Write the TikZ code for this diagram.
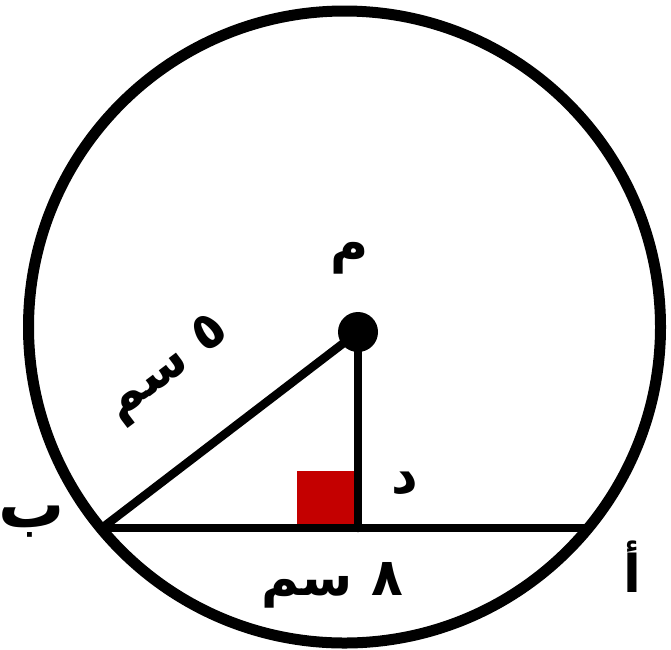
\documentclass[tikz,border=0pt]{standalone}
\usepackage{fontspec}
\TeXXeTstate=1
\newfontfamily\arabicfont[Script=Arabic]{DejaVu Sans}
\begin{document}
\begin{tikzpicture}[x=1pt,y=-1pt,
  geo/.style={line width=8.5pt, line cap=round, black},
  lbl/.style={inner sep=0pt, font=\arabicfont\bfseries\fontsize{52}{54}\selectfont}]
\useasboundingbox (0,0) rectangle (671,649);
\definecolor{rightred}{RGB}{196,0,0}
% points
\coordinate (O) at (344.5,327);
\coordinate (B) at (102,528);
\coordinate (A) at (586,528);
\coordinate (D) at (358,528);
\coordinate (Q) at (297,471);
% right-angle marker
\fill[rightred] (Q) rectangle (D);
% circle
\draw[line width=11pt] (O) circle (316);
% segments
\node[circle, fill=black, inner sep=0pt, minimum size=40pt] (M) at (358,332) {};
\draw[geo] (B) -- (A);
\draw[geo] (M.center) -- (D);
\draw[geo] (B) -- (M.center);
% labels
\node[lbl] (lM) at (350,258) {\beginR م\endR};
\node[lbl, rotate=37] (lr) at (168,370) {\beginR ٥ سم\endR};
\node[lbl] (lD) at (405,483) {\beginR د\endR};
\node[lbl, font=\arabicfont\bfseries\fontsize{66}{68}\selectfont] (lB) at (32,522) {\beginR ب\endR};
\node[lbl] (lA) at (632,567) {\beginR أ\endR};
\node[lbl] (lc) at (332,585) {\beginR ٨ سم\endR};
\end{tikzpicture}
\end{document}
